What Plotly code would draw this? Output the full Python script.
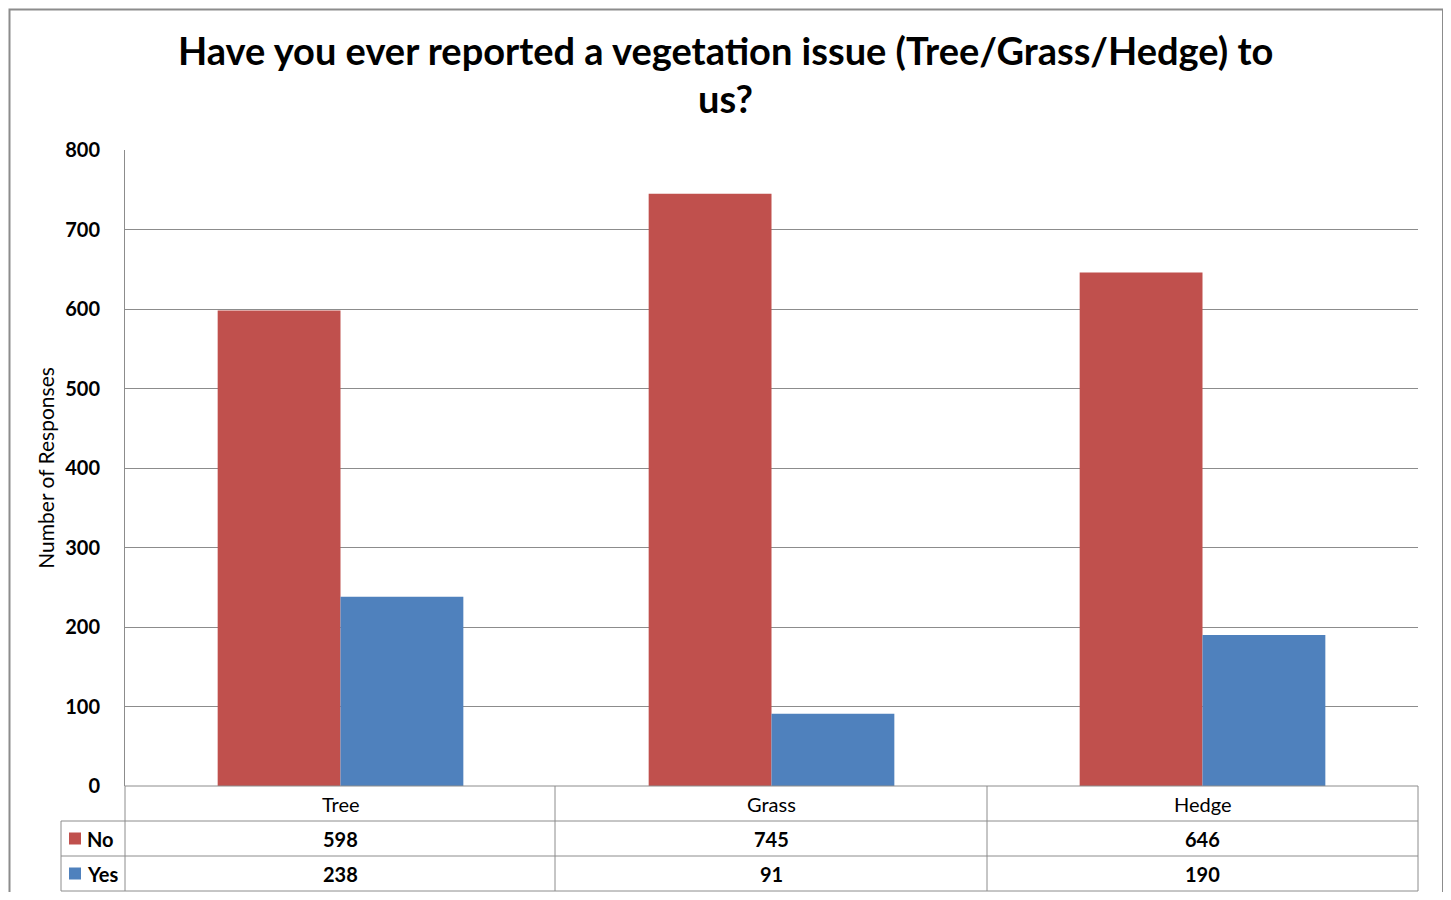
import plotly.graph_objects as go

categories = ["Tree", "Grass", "Hedge"]
no_values = [598, 745, 646]
yes_values = [238, 91, 190]
series_names = ["No", "Yes"]
series_colors = ["#C0504D", "#4F81BD"]
y_ticks = [0, 100, 200, 300, 400, 500, 600, 700, 800]
title_lines = ["Have you ever reported a vegetation issue (Tree/Grass/Hedge) to", "us?"]

FONT = "Lato"
O = 8  # page body margin
W, H = 1451 - 2 * O, 900 - 2 * O
# plot area in reference pixels
PL, PR, PT, PB = 125, 1418, 150, 786
L, R, T, B = PL - O, W - (PR - O), PT - O, H - (PB - O)
plot_w = PR - PL
plot_h = PB - PT


def px_x(p):
    return (p - PL) / plot_w


def px_y(p):
    return (PB - p) / plot_h


fig = go.Figure()
for name, vals, col in zip(series_names, [no_values, yes_values], series_colors):
    fig.add_trace(go.Bar(x=categories, y=vals, name=name, marker_color=col,
                         marker_line_width=0))

fig.update_layout(
    width=W, height=H,
    margin=dict(l=L, r=R, t=T, b=B),
    plot_bgcolor="white", paper_bgcolor="white",
    barmode="group", bargap=0.43, bargroupgap=0,
    showlegend=False,
    font=dict(family=FONT, color="black"),
)
fig.update_xaxes(showticklabels=False, showline=False, showgrid=False,
                 range=[-0.5, 2.5])
fig.update_yaxes(range=[0, 800], tickvals=y_ticks, showgrid=True,
                 gridcolor="#8c8c8c", gridwidth=1, showline=True,
                 linecolor="#8c8c8c", zeroline=False, ticks="",
                 ticklabelstandoff=20,
                 tickfont=dict(size=20, family=FONT, color="black", weight="bold"),
                 title=dict(text="Number of Responses", standoff=4,
                            font=dict(size=21, family=FONT, color="black")))

line = dict(color="#8c8c8c", width=1)
rows = [786, 821, 856, 891]
cols = [125, 555, 987, 1418]
shapes = []
# horizontal table lines
for i, r in enumerate(rows):
    x0 = 125 if i == 0 else 61
    shapes.append(dict(type="line", xref="paper", yref="paper",
                       x0=px_x(x0), x1=px_x(1418), y0=px_y(r), y1=px_y(r), line=line))
# vertical table lines
for c in cols:
    shapes.append(dict(type="line", xref="paper", yref="paper",
                       x0=px_x(c), x1=px_x(c), y0=px_y(786), y1=px_y(891), line=line))
shapes.append(dict(type="line", xref="paper", yref="paper",
                   x0=px_x(61), x1=px_x(61), y0=px_y(821), y1=px_y(891), line=line))
# outer chart border
shapes.append(dict(type="rect", xref="paper", yref="paper",
                   x0=px_x(9.5), x1=px_x(1443), y0=px_y(9.5), y1=px_y(920),
                   line=dict(color="#8c8c8c", width=2)))
# legend keys
for r, col in zip(rows[1:3], series_colors):
    yc = r + 17.5
    shapes.append(dict(type="rect", xref="paper", yref="paper",
                       x0=px_x(69), x1=px_x(81), y0=px_y(yc - 6), y1=px_y(yc + 6),
                       fillcolor=col, line=dict(width=0)))
fig.update_layout(shapes=shapes)

annotations = []
for yline, txt in zip([50, 98], title_lines):
    annotations.append(dict(x=px_x(725), xref="paper", y=px_y(yline), yref="paper",
                            text=txt, showarrow=False, xanchor="center", yanchor="middle",
                            font=dict(size=38, family=FONT, weight="bold")))
for i, cat in enumerate(categories):
    annotations.append(dict(x=i, xref="x", y=px_y(803.5), yref="paper", text=cat,
                            showarrow=False, yanchor="middle",
                            font=dict(size=20, family=FONT)))
    for r, vals in zip(rows[1:3], [no_values, yes_values]):
        annotations.append(dict(x=i, xref="x", y=px_y(r + 17.5), yref="paper",
                                text=str(vals[i]), showarrow=False, yanchor="middle",
                                font=dict(size=20, family=FONT, weight="bold")))
for r, name in zip(rows[1:3], series_names):
    annotations.append(dict(x=px_x(85), xref="paper", y=px_y(r + 17.5), yref="paper",
                            text=name, showarrow=False, xanchor="left", yanchor="middle",
                            font=dict(size=20, family=FONT, weight="bold")))
fig.update_layout(annotations=annotations)

fig.write_html("out.html")
